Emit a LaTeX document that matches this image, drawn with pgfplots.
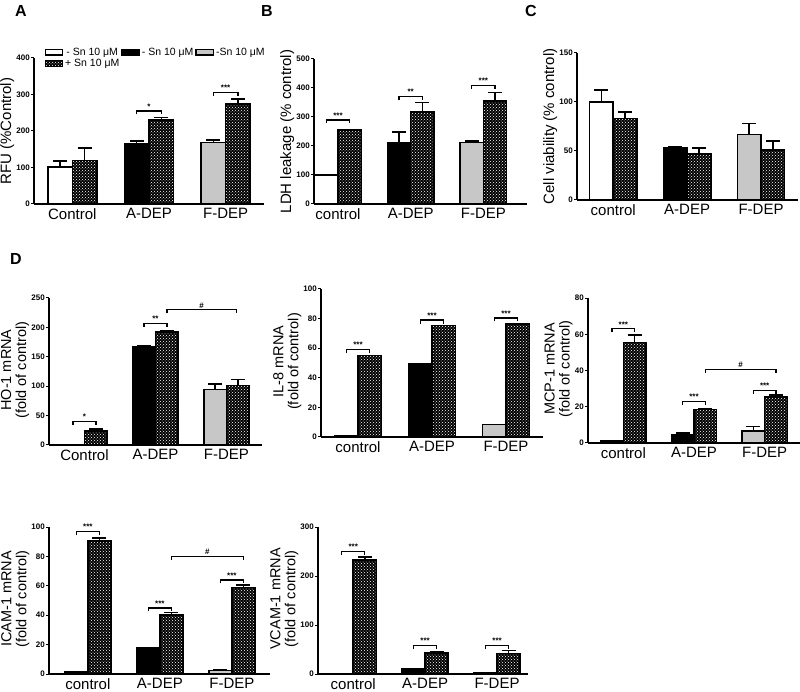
\documentclass[border=0pt]{standalone}
\usepackage{pgfplots}
\pgfplotsset{compat=1.18}
\usepackage{fontspec}
\setmainfont{Liberation Sans}
\usetikzlibrary{patterns,calc}

\pgfplotsset{
  prism/.style={
    scale only axis,
    axis x line=bottom, axis y line=left,
    axis line style={line width=1.2pt,-},
    ymin=0,
    xtick={1,2,3},
    xtick style={draw=none},
    ytick style={line width=1pt, black},
    tick align=outside,
    major tick length=3pt,
    yticklabel style={font=\fontsize{8}{9}\selectfont\bfseries, inner sep=1pt},
    xticklabel style={font=\fontsize{15}{17}\selectfont, inner sep=1pt},
    ylabel style={font=\fontsize{15}{17}\selectfont, align=center, inner sep=1pt},
    /pgf/number format/assume math mode=true,
    clip=false,
    anchor=south west,
    error bars/y dir=plus, error bars/y explicit,
    error bars/error bar style={line width=1.5pt},
    error bars/error mark options={rotate=90, mark size=7pt, line width=1.5pt},
  },
  dlab/.style={ylabel style={font=\fontsize{14.5}{15}\selectfont, xshift=1.5pt}},
  bbase/.style={ybar, bar width=0.32, bar shift=0pt, draw=black, line width=1.5pt, area legend},
  wbar/.style={bbase, fill=white},
  kbar/.style={bbase, fill=black},
  gbar/.style={bbase, fill=black!22},
  dbar/.style={bbase, fill=black, postaction={pattern=crosshatch dots, pattern color=white}},
  noerr/.style={error bars/y dir=none},
}
\newcommand{\sig}[4]{%
  \draw[line width=1.3pt] (axis cs:#1,#3) ++(0pt,-3.5pt) -- (axis cs:#1,#3) -- (axis cs:#2,#3) -- ++(0pt,-3.5pt);
  \node[above, inner sep=1.5pt, font=\fontsize{8}{9}\selectfont\bfseries] at ($(axis cs:#1,#3)!0.5!(axis cs:#2,#3)$) {#4};
}

\begin{document}
\begin{tikzpicture}
\useasboundingbox (0,0) rectangle (800pt,691pt);

\node[font=\fontsize{16}{18}\selectfont\bfseries] at (21pt,680pt) {A};
\node[font=\fontsize{16}{18}\selectfont\bfseries] at (267pt,680pt) {B};
\node[font=\fontsize{16}{18}\selectfont\bfseries] at (531pt,680pt) {C};
\node[font=\fontsize{16}{18}\selectfont\bfseries] at (16pt,432pt) {D};

% ---------- A ----------
\begin{axis}[prism, at={(34pt,487pt)}, width=230pt, height=146pt,
  xmin=0.5, xmax=3.5, ymax=400, ytick={0,100,...,400},
  xticklabels={Control,A-DEP,F-DEP},
  ylabel={RFU (\%Control)},
  legend columns=3,
  legend style={draw=none, fill=none, at={(0.045,1.085)}, anchor=north west,
    font=\fontsize{10.5}{11}\selectfont, column sep=0pt, row sep=-1.5pt, inner sep=0pt,
    nodes={inner sep=2pt}},
  legend image code/.code={\draw[#1, line width=1.2pt] (0pt,-3.5pt) rectangle (15pt,3.5pt);},
]
\addplot[wbar] coordinates {(0.84,101) +- (0,17)};
\addplot[kbar] coordinates {(1.84,165) +- (0,8)};
\addplot[gbar] coordinates {(2.84,168) +- (0,8)};
\addplot[dbar] coordinates {(1.16,119) +- (0,35) (2.16,230) +- (0,7) (3.16,274) +- (0,13)};
\legend{- Sn 10 μM, - Sn 10 μM, -Sn 10 μM, + Sn 10 μM}
\sig{1.84}{2.16}{255}{*}
\sig{2.84}{3.16}{305}{***}
\end{axis}

% ---------- B ----------
\begin{axis}[prism, at={(314pt,487pt)}, width=213pt, height=145pt,
  xmin=0.67, xmax=3.6, ymax=500, ytick={0,100,...,500},
  xticklabels={control,A-DEP,F-DEP},
  ylabel={LDH leakage (\% control)},
]
\addplot[wbar, noerr] coordinates {(0.84,100)};
\addplot[kbar] coordinates {(1.84,210) +- (0,38)};
\addplot[gbar] coordinates {(2.84,212) +- (0,5)};
\addplot[dbar] coordinates {(1.16,255) +- (0,2) (2.16,318) +- (0,32) (3.16,355) +- (0,30)};
\sig{0.84}{1.16}{290}{***}
\sig{1.84}{2.16}{370}{**}
\sig{2.84}{3.16}{408}{***}
\end{axis}

% ---------- C ----------
\begin{axis}[prism, at={(577pt,491pt)}, width=221pt, height=147pt,
  xmin=0.51, xmax=3.5, ymax=150, ytick={0,50,100,150},
  xticklabels={control,A-DEP,F-DEP},
  ylabel={Cell viability (\% control)},
]
\addplot[wbar] coordinates {(0.84,100) +- (0,12)};
\addplot[kbar] coordinates {(1.84,53) +- (0,1)};
\addplot[gbar] coordinates {(2.84,67) +- (0,11)};
\addplot[dbar] coordinates {(1.16,83) +- (0,7) (2.16,47) +- (0,6) (3.16,51) +- (0,9)};
\end{axis}

% ---------- HO-1 ----------
\begin{axis}[prism, dlab, at={(49pt,246pt)}, width=213pt, height=147pt,
  xmin=0.5, xmax=3.5, ymax=250, ytick={0,50,...,250},
  xticklabels={Control,A-DEP,F-DEP},
  ylabel={HO-1 mRNA\\(fold of control)},
]
\addplot[wbar, noerr] coordinates {(0.84,1)};
\addplot[kbar] coordinates {(1.84,167) +- (0,2)};
\addplot[gbar] coordinates {(2.84,94) +- (0,10)};
\addplot[dbar] coordinates {(1.16,24) +- (0,3) (2.16,192) +- (0,3) (3.16,101) +- (0,10)};
\sig{0.84}{1.16}{40}{*}
\sig{1.84}{2.16}{207}{**}
\sig{2.16}{3.14}{230}{\#}
\end{axis}

% ---------- IL-8 ----------
\begin{axis}[prism, dlab, at={(321pt,254pt)}, width=222pt, height=148pt,
  xmin=0.5, xmax=3.5, ymax=100, ytick={0,20,...,100},
  xticklabels={control,A-DEP,F-DEP},
  ylabel={IL-8 mRNA\\(fold of control)},
]
\addplot[wbar, noerr] coordinates {(0.84,1)};
\addplot[kbar, noerr] coordinates {(1.84,49.5)};
\addplot[gbar, noerr] coordinates {(2.84,8.5)};
\addplot[dbar, noerr] coordinates {(1.16,55) (2.16,75.5) (3.16,76.5)};
\sig{0.84}{1.16}{59}{***}
\sig{1.84}{2.16}{79}{***}
\sig{2.84}{3.16}{80.5}{***}
\end{axis}

% ---------- MCP-1 ----------
\begin{axis}[prism, dlab, at={(588pt,248pt)}, width=212pt, height=145pt,
  xmin=0.5, xmax=3.5, ymax=80, ytick={0,20,...,80},
  xticklabels={control,A-DEP,F-DEP},
  ylabel={MCP-1 mRNA\\(fold of control)},
]
\addplot[wbar] coordinates {(0.84,1) +- (0,0.5)};
\addplot[kbar] coordinates {(1.84,4.5) +- (0,1)};
\addplot[gbar] coordinates {(2.84,6.5) +- (0,2.5)};
\addplot[dbar] coordinates {(1.16,55.5) +- (0,4) (2.16,18.5) +- (0,0.5) (3.16,25.5) +- (0,1)};
\sig{0.84}{1.16}{63}{***}
\sig{1.84}{2.16}{23}{***}
\sig{2.84}{3.16}{29}{***}
\sig{2.16}{3.16}{40.5}{\#}
\end{axis}

% ---------- ICAM-1 ----------
\begin{axis}[prism, dlab, at={(49pt,17pt)}, width=221pt, height=147pt,
  xmin=0.46, xmax=3.53, ymax=100, ytick={0,20,...,100},
  xticklabels={control,A-DEP,F-DEP},
  ylabel={ICAM-1 mRNA\\(fold of control)},
]
\addplot[wbar, noerr] coordinates {(0.84,1.5)};
\addplot[kbar, noerr] coordinates {(1.84,18)};
\addplot[gbar] coordinates {(2.84,2.5) +- (0,0.5)};
\addplot[dbar] coordinates {(1.16,90.5) +- (0,2) (2.16,40) +- (0,2) (3.16,59) +- (0,1.5)};
\sig{0.84}{1.16}{97}{***}
\sig{1.84}{2.16}{45}{***}
\sig{2.84}{3.16}{64}{***}
\sig{2.16}{3.16}{80}{\#}
\end{axis}

% ---------- VCAM-1 ----------
\begin{axis}[prism, dlab, at={(318pt,17pt)}, width=210pt, height=147pt,
  xmin=0.51, xmax=3.43, ymax=300, ytick={0,100,...,300},
  xticklabels={control,A-DEP,F-DEP},
  ylabel={VCAM-1 mRNA\\(fold of control)},
]
\addplot[wbar, noerr] coordinates {(0.84,1)};
\addplot[kbar, noerr] coordinates {(1.84,10)};
\addplot[gbar, noerr] coordinates {(2.84,2)};
\addplot[dbar] coordinates {(1.16,233) +- (0,6) (2.16,43) +- (0,3) (3.16,42) +- (0,6)};
\sig{0.84}{1.16}{250}{***}
\sig{1.84}{2.16}{58}{***}
\sig{2.84}{3.16}{58}{***}
\end{axis}
\end{tikzpicture}
\end{document}
